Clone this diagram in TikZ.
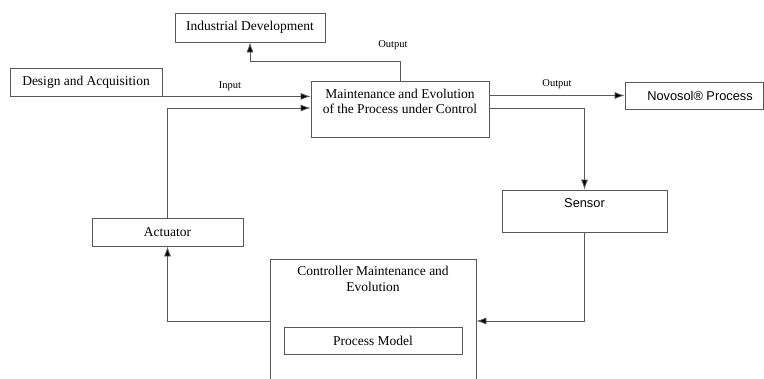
\documentclass[tikz,border=0pt]{standalone}
\usepackage{fontspec}
\setmainfont{Liberation Serif}
\newfontfamily\timesf{Liberation Serif}
\newfontfamily\arialf{Liberation Sans}
\usetikzlibrary{arrows.meta,positioning}
\tikzset{
  box/.style={draw=black!65, line width=0.8pt, rectangle, inner sep=0pt, font=\timesf\fontsize{13.5}{15.5}\selectfont, align=center},
  conn/.style={draw=black!65, line width=0.8pt},
  arr/.style={conn, -{Latex[length=10pt,width=7pt,fill=black]}},
  lbl/.style={font=\timesf\fontsize{10.5}{12}\selectfont, inner sep=0pt}
}
\begin{document}
\begin{tikzpicture}[x=1pt,y=-1pt]
\useasboundingbox (0,0) rectangle (764,378);
\fill[white] (0,0) rectangle (764,378);
\clip (0,0) rectangle (764,378);
% boxes
\node[box, minimum width=150pt, minimum height=29pt] (ind) at (250,27.5) {Industrial Development};
\node[box, minimum width=152pt, minimum height=28pt] (des) at (86,82) {Design and Acquisition};
\node[box, minimum width=178pt, minimum height=56pt,
  label={[anchor=north, align=center, font=\timesf\fontsize{13.5}{15}\selectfont, yshift=-5pt]north:Maintenance and Evolution\\of the Process under Control}] (main) at (400,109) {};
\node[box, minimum width=138pt, minimum height=27pt, font=\arialf\fontsize{12.8}{14}\selectfont] (nov) at (694,95.5) {\hspace*{12pt}Novosol® Process};
\node[box, minimum width=165pt, minimum height=42pt,
  label={[anchor=north, font=\arialf\fontsize{12.8}{14}\selectfont, yshift=-5pt]north:Sensor}] (sen) at (584.5,211) {};
\node[box, minimum width=151pt, minimum height=28pt] (act) at (167.5,232) {Actuator};
\node[box, minimum width=206pt, minimum height=124pt,
  label={[anchor=north, align=center, font=\timesf\fontsize{13.5}{16}\selectfont, yshift=-4pt]north:Controller Maintenance and\\Evolution}] (ctrl) at (373,321) {};
\node[box, minimum width=178pt, minimum height=27pt] (pm) at (373,340.5) {Process Model};
% connectors
\draw[arr] (des.south east) -- (des.south east -| main.west);
\node[lbl] (lin) at (230,86) {Input};
\draw[arr] (main.north) -- ++(0,-19) coordinate (tcorner) -| (ind.south);
\node[lbl] (lout1) at (393,45) {Output};
\draw[arr] (nov.west -| main.east) -- (nov.west);
\node[lbl] (lout2) at (557,84) {Output};
\draw[arr] ([yshift=1pt]main.east) -| (sen.north);
\draw[arr] (sen.south) |- (ctrl.east);
\draw[arr] (ctrl.west) -| (act.south);
\draw[arr] (act.north) |- ([yshift=1pt]main.west);
\end{tikzpicture}
\end{document}
